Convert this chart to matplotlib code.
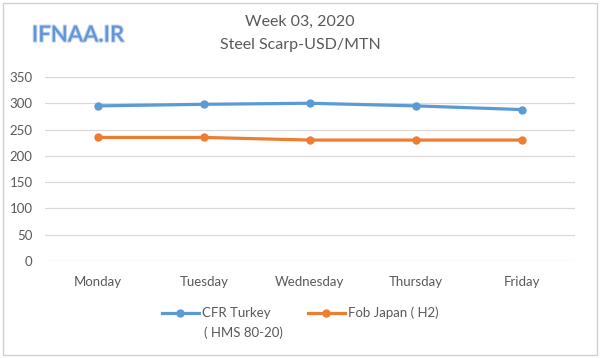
import matplotlib.pyplot as plt
import matplotlib.patheffects as pe
from matplotlib.patches import Rectangle

days = ['Monday', 'Tuesday', 'Wednesday', 'Thursday', 'Friday']
cfr_turkey = [295, 298, 300, 295, 288]
fob_japan = [235, 235, 230, 230, 230]
yticks = [0, 50, 100, 150, 200, 250, 300, 350]

blue = '#5B9BD5'
orange = '#ED7D31'
grey = '#595959'

plt.rcParams['font.family'] = ['Lato', 'DejaVu Sans']

fig = plt.figure(figsize=(6, 3.58), dpi=100)
ax = fig.add_axes([0.075, 0.271, 0.883, 0.514])

x = range(len(days))
ax.plot(x, cfr_turkey, color=blue, lw=2.3, marker='o', ms=5, label='CFR Turkey')
ax.plot(x, fob_japan, color=orange, lw=2.3, marker='o', ms=5, label='Fob Japan ( H2)')

ax.set_xlim(-0.5, len(days) - 0.5)
ax.set_ylim(0, 350)
ax.set_yticks(yticks)
ax.set_xticks(list(x))
ax.set_xticklabels(days)
ax.grid(axis='y', color='#D9D9D9', lw=0.9)
ax.set_axisbelow(True)
for s in ax.spines.values():
    s.set_visible(False)
ax.tick_params(length=0, colors=grey, labelsize=9.5)
ax.tick_params(axis='x', pad=11)
ax.tick_params(axis='y', pad=9)

fig.text(0.5, 0.938, 'Week 03, 2020', ha='center', va='center', fontsize=11.5, color=grey)
fig.text(0.5, 0.874, 'Steel Scarp-USD/MTN', ha='center', va='center', fontsize=11.5, color=grey)

logo = fig.text(0.13, 0.902, 'IFNAA.IR', ha='center', va='center', fontsize=16,
                color='#6495D3', fontweight='semibold')
logo.set_path_effects([pe.withStroke(linewidth=1.5, foreground='#C2D5EE')])

leg = fig.legend(loc='center left', bbox_to_anchor=(0.27, 0.126), ncol=2, frameon=False,
                 fontsize=9.5, handlelength=2.8, handletextpad=0.25, columnspacing=2.8,
                 labelcolor=grey, borderpad=0, borderaxespad=0)
fig.text(0.34, 0.07, '( HMS 80-20)', ha='left', va='center', fontsize=9.5, color=grey)

fig.patches.append(Rectangle((0.005, 0.008), 0.99, 0.984, transform=fig.transFigure,
                             fill=False, edgecolor='#D0D0D0', lw=1))

fig.savefig('out.png', dpi=100)
